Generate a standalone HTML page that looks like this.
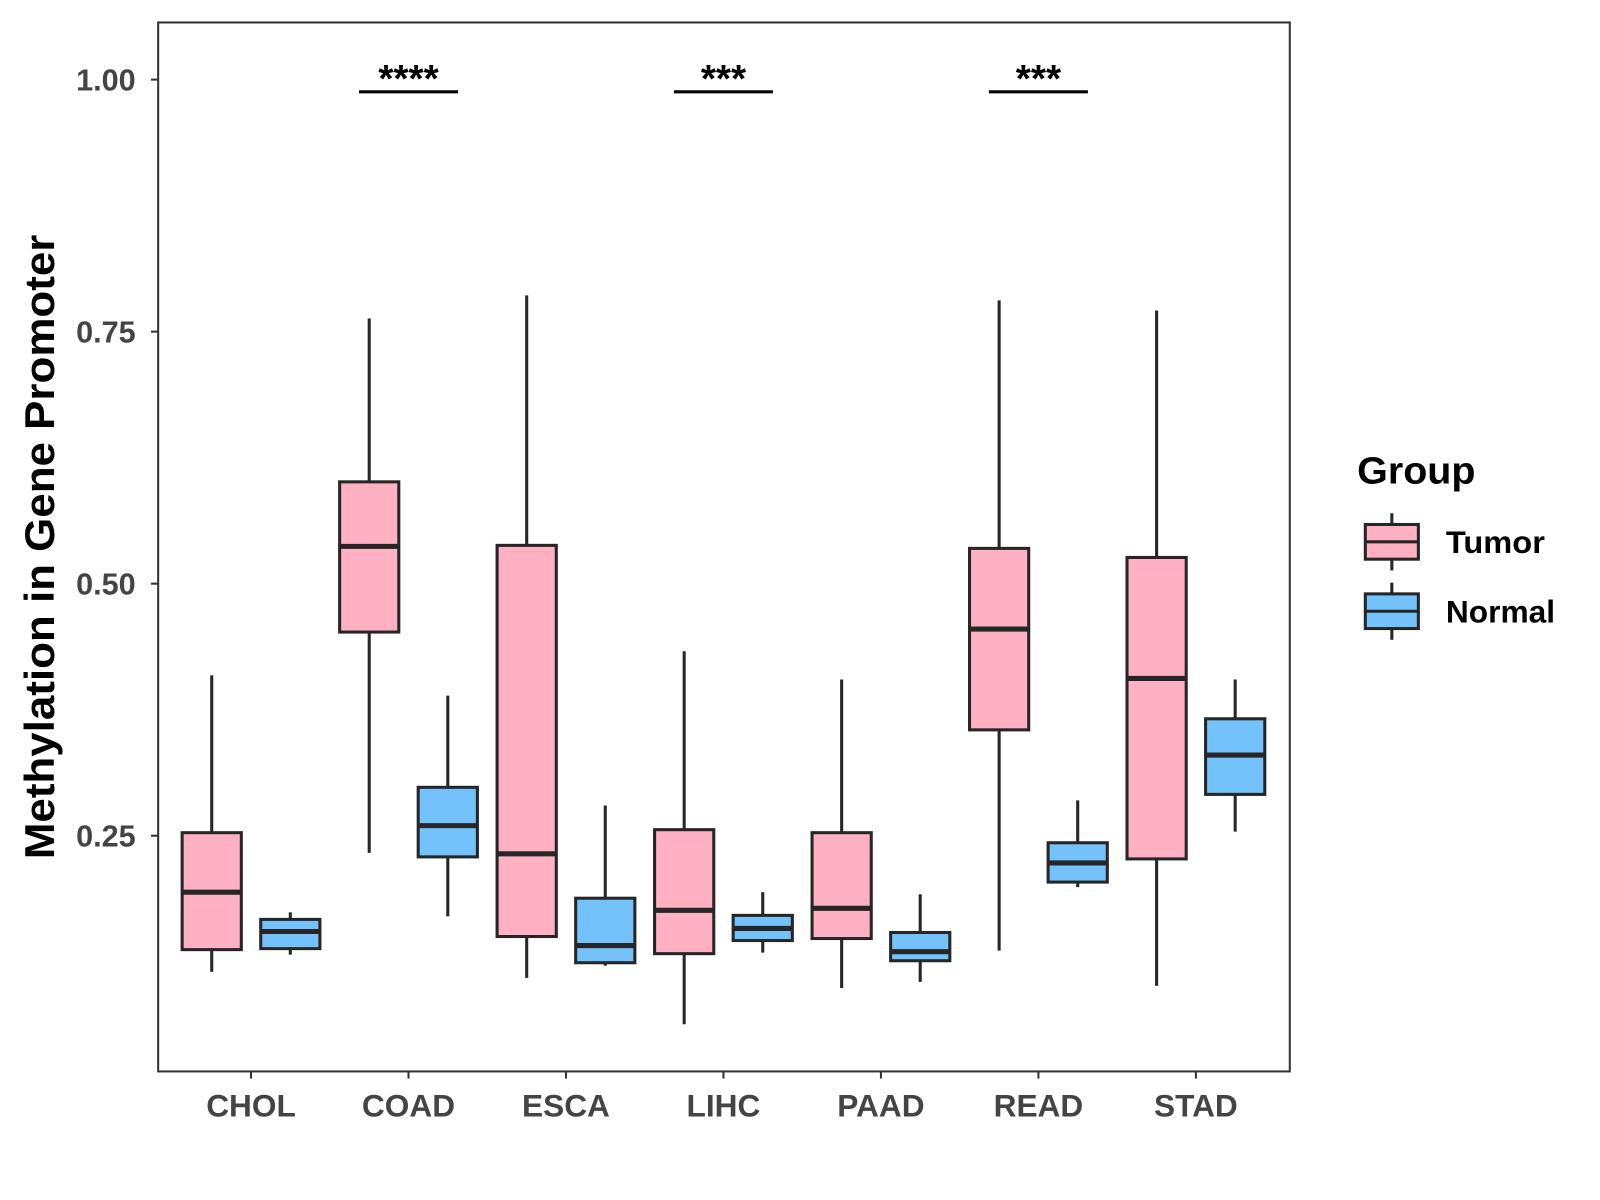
<!DOCTYPE html>
<html><head><meta charset="utf-8"><style>
html,body{margin:0;padding:0;background:#fff;}
svg{display:block;font-family:"Liberation Sans",Arial,sans-serif;}
</style></head><body>
<svg id="chart" width="1600" height="1200" viewBox="0 0 1568 1176" xmlns="http://www.w3.org/2000/svg">
<rect width="1568" height="1176" fill="#fff"/>
<g id="plot"></g>
<text transform="translate(53,536) rotate(-90)" text-anchor="middle" font-size="41" font-weight="bold" fill="#000" textLength="612" lengthAdjust="spacingAndGlyphs">Methylation in Gene Promoter</text>
<g>
<text x="1330" y="474" font-size="37" font-weight="bold" textLength="116" lengthAdjust="spacingAndGlyphs">Group</text>
<g>
<line x1="1364" y1="503" x2="1364" y2="559" stroke="#262626" stroke-width="3"/>
<rect x="1338" y="514" width="52" height="34" fill="#FFB0C3" stroke="#262626" stroke-width="3"/>
<line x1="1338" y1="531" x2="1390" y2="531" stroke="#262626" stroke-width="3"/>
<text x="1417" y="542" font-size="31" font-weight="bold" textLength="97" lengthAdjust="spacingAndGlyphs">Tumor</text>
</g>
<g>
<line x1="1364" y1="571" x2="1364" y2="627" stroke="#262626" stroke-width="3"/>
<rect x="1338" y="582" width="52" height="34" fill="#73C2FB" stroke="#262626" stroke-width="3"/>
<line x1="1338" y1="599" x2="1390" y2="599" stroke="#262626" stroke-width="3"/>
<text x="1417" y="610" font-size="31" font-weight="bold" textLength="107" lengthAdjust="spacingAndGlyphs">Normal</text>
</g>
</g>
</svg>
<script>
const categories = ["CHOL","COAD","ESCA","LIHC","PAAD","READ","STAD"];
// [low, q1, median, q3, high]
const tumorStats = [
 [0.115,0.137,0.194,0.253,0.409],
 [0.233,0.452,0.537,0.601,0.763],
 [0.109,0.150,0.232,0.538,0.786],
 [0.063,0.133,0.176,0.256,0.433],
 [0.099,0.148,0.178,0.253,0.405],
 [0.136,0.355,0.455,0.535,0.781],
 [0.101,0.227,0.406,0.526,0.771]
];
const normalStats = [
 [0.132,0.138,0.155,0.167,0.174],
 [0.170,0.229,0.260,0.298,0.389],
 [0.121,0.124,0.141,0.188,0.280],
 [0.134,0.146,0.158,0.171,0.194],
 [0.105,0.126,0.135,0.154,0.192],
 [0.199,0.204,0.223,0.243,0.285],
 [0.254,0.291,0.330,0.366,0.405]
];
const yTicks = [0.25,0.50,0.75,1.00];
const yTickLabels = ["0.25","0.50","0.75","1.00"];
const sigCategories = ["COAD","LIHC","READ"];
const sigLabels = ["****","***","***"];

const NS="http://www.w3.org/2000/svg";
const L=155,R=1264,T=22,B=1050;
const yScale=v=>78+(1-v)*988;
const xScale=i=>246+i*154.33;
const g=document.getElementById('plot');
function el(tag,attrs,parent){const e=document.createElementNS(NS,tag);for(const k in attrs)e.setAttribute(k,attrs[k]);(parent||g).appendChild(e);return e;}

const panel=el('rect',{x:L,y:T,width:R-L,height:B-T,fill:'none',stroke:'#333',"stroke-width":2});



yTicks.forEach((v,i)=>{
 const y=yScale(v);
 const tk=el('line',{x1:148,x2:L,y1:y,y2:y,stroke:'#333',"stroke-width":2});
 
 
 const t=el('text',{x:133,y:y+10.5,"text-anchor":"end","font-size":30,"font-weight":"bold",fill:'#444'});
 t.textContent=yTickLabels[i];
 
 
});
categories.forEach((c,i)=>{
 const x=xScale(i);
 const tk=el('line',{x1:x,x2:x,y1:B,y2:B+7,stroke:'#333',"stroke-width":2});
 
 
 const t=el('text',{x:x,y:1094,"text-anchor":"middle","font-size":31,"font-weight":"bold",fill:'#444'});
 t.textContent=c;
 
 
});

function box(cx,s,fill,name){
 const bg=el('g',{});
 
 
 const w=58;
 el('line',{x1:cx,x2:cx,y1:yScale(s[4]),y2:yScale(s[0]),stroke:'#262626',"stroke-width":3},bg);
 el('rect',{x:cx-w/2,y:yScale(s[3]),width:w,height:yScale(s[1])-yScale(s[3]),fill:fill,stroke:'#262626',"stroke-width":3},bg);
 el('line',{x1:cx-w/2,x2:cx+w/2,y1:yScale(s[2]),y2:yScale(s[2]),stroke:'#262626',"stroke-width":5},bg);
}
categories.forEach((c,i)=>{
 box(xScale(i)-38.5,tumorStats[i],'#FFB0C3','box-tumor-'+c.toLowerCase());
 box(xScale(i)+38.5,normalStats[i],'#73C2FB','box-normal-'+c.toLowerCase());
});
sigCategories.forEach((c,j)=>{
 const i=categories.indexOf(c);
 const x=xScale(i);
 const ln=el('line',{x1:x-48.5,x2:x+48.5,y1:90,y2:90,stroke:'#000',"stroke-width":3});
 
 
 const t=el('text',{x:x,y:90,"text-anchor":"middle","font-size":38,"font-weight":"bold",fill:'#000'});
 t.textContent=sigLabels[j];
 
 
});
</script>
</body></html>
